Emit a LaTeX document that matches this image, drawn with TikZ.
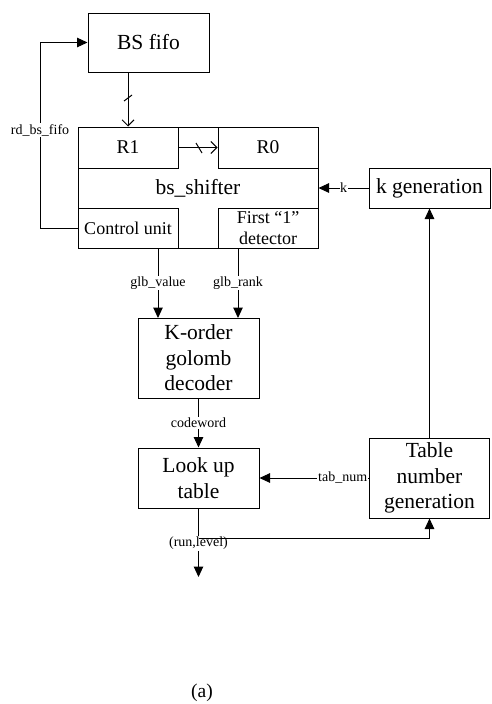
\documentclass[tikz,border=0pt]{standalone}
\usepackage{fontspec}
\setmainfont{Liberation Serif}
\usetikzlibrary{arrows.meta}
\tikzset{
  box/.style={draw, line width=1pt, inner sep=0pt, align=center, font=\fontsize{21.5}{25.5}\selectfont},
  subbox/.style={draw, line width=1pt, inner sep=0pt, align=center},
  lbl/.style={fill=white, inner sep=1pt, font=\fontsize{14}{16}\selectfont},
  wire/.style={line width=1pt},
  arr/.style={line width=1pt, -{Triangle[length=10.5pt,width=9.5pt]}},
  barb/.style={line width=1pt, -{Straight Barb[length=6pt,width=12pt]}},
}
\begin{document}
\begin{tikzpicture}[x=1pt,y=-1pt]
\useasboundingbox (0,0) rectangle (491,704);
% boxes
\node[box, minimum width=121pt, minimum height=59pt] (fifo) at (148.5,42.5) {BS fifo};
\node[box, minimum width=240pt, minimum height=121pt] (bs) at (198,187.5) {};
\node[font=\fontsize{21.5}{25.5}\selectfont, inner sep=0pt] (bst) at (198,188) {bs\_shifter};
\node[subbox, minimum width=100pt, minimum height=41pt, font=\fontsize{19.5}{22}\selectfont] (r1) at (128,147.5) {R1};
\node[subbox, minimum width=100pt, minimum height=41pt, font=\fontsize{19.5}{22}\selectfont] (r0) at (268,147.5) {R0};
\node[subbox, minimum width=100pt, minimum height=40pt, font=\fontsize{18}{21}\selectfont] (cu) at (128,228) {Control unit};
\node[subbox, minimum width=100pt, minimum height=40pt, font=\fontsize{18}{21}\selectfont] (fd) at (268,228) {First “1”\\detector};
\node[box, minimum width=121pt, minimum height=40pt] (kg) at (429.5,188) {k generation};
\node[box, minimum width=121pt, minimum height=80pt] (ko) at (198.5,358) {K-order\\golomb\\decoder};
\node[box, minimum width=121pt, minimum height=60pt] (lu) at (198.5,478) {Look up\\table};
\node[box, minimum width=120pt, minimum height=80pt] (tg) at (429.5,478) {Table\\number\\generation};
% connectors
\draw[barb] (fifo.south -| r1) -- (r1.north);
\draw[wire] (124,101) -- (132,95);
\draw[barb] (r1.east) -- (r0.west);
\draw[wire] (196,143) -- (202,153);
\draw[arr] (cu.west) -- (40,228) |- (fifo.west);
\node[lbl] (rdl) at (40,130) {rd\_bs\_fifo};
\draw[arr] (kg.west) -- node[lbl, inner sep=0.5pt] {k} (bs.east |- kg.west);
\draw[arr] (158,248) -- node[lbl, pos=0.5] {glb\_value} (158,318);
\draw[arr] (238,248) -- node[lbl, pos=0.5] {glb\_rank} (238,318);
\draw[arr] (ko.south) -- node[lbl, pos=0.5] {codeword} (lu.north);
\draw[arr] (tg.west) -- node[lbl, pos=0.24] {tab\_num} (lu.east);
\draw[arr] (tg.north) -- (kg.south);
\coordinate (out) at (198.5,577);
\draw[arr] (lu.south) -- node[lbl, pos=0.51] {(run,level)} (out);
\draw[arr] (lu.south |- 0,538) -| (tg.south);
\node[font=\fontsize{19.5}{22}\selectfont, inner sep=0pt] (cap) at (202,693) {(a)};
\end{tikzpicture}
\end{document}
